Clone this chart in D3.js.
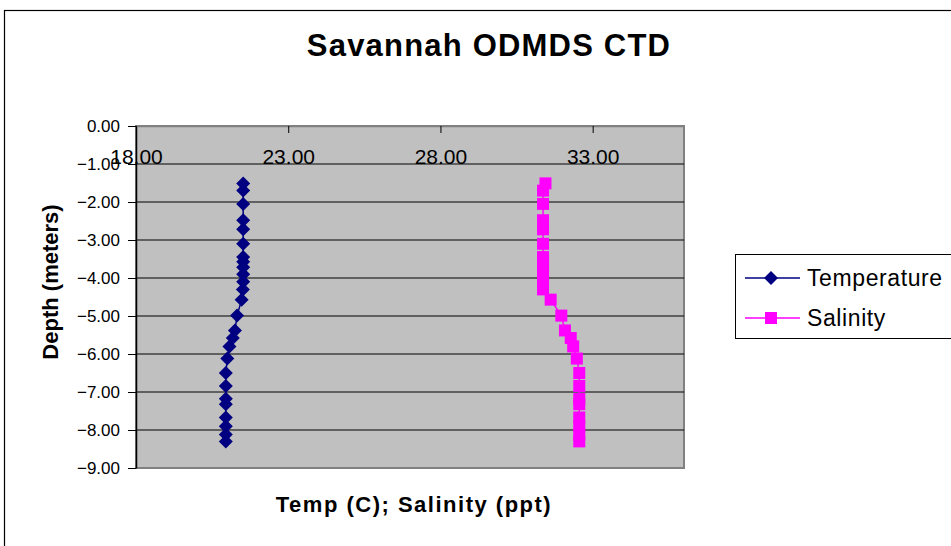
<!DOCTYPE html>
<html>
<head>
<meta charset="utf-8">
<script src="https://cdn.jsdelivr.net/npm/d3@7"></script>
<style>
  body { margin: 0; background: #fff; }
  text { font-family: Arial, "Liberation Sans", sans-serif; }
</style>
</head>
<body>
<svg width="951" height="546"></svg>
<script>
// depth of each CTD sample (m) and the readings at that depth
var depths = [-1.51, -1.70, -2.05, -2.48, -2.72, -3.10, -3.45, -3.57, -3.72, -3.90, -4.10, -4.30, -4.57,
  -4.99, -5.38, -5.58, -5.80, -6.12, -6.50, -6.84, -7.18, -7.32, -7.67, -7.90, -8.12, -8.30];
var temperature = [21.52, 21.52, 21.52, 21.52, 21.52, 21.52, 21.52, 21.52, 21.52, 21.52, 21.52, 21.51, 21.47,
  21.32, 21.25, 21.18, 21.07, 21.00, 20.95, 20.95, 20.95, 20.95, 20.95, 20.95, 20.95, 20.95];
var salinity = [31.45, 31.37, 31.37, 31.37, 31.37, 31.37, 31.37, 31.37, 31.37, 31.37, 31.37, 31.37, 31.62,
  31.97, 32.09, 32.28, 32.36, 32.48, 32.56, 32.56, 32.56, 32.56, 32.56, 32.56, 32.56, 32.56];
var xTicks = [18, 23, 28, 33];
var yTicks = [0, -1, -2, -3, -4, -5, -6, -7, -8, -9];
var seriesNames = ["Temperature", "Salinity"];
var seriesColors = ["#000080", "#FF00FF"];

window.addEventListener("load", main);

function main() {
  var svg = d3.select("svg");
  var left = 136, right = 684, top = 126, bottom = 468;

  var x = d3.scaleLinear().domain([18, 36]).range([left, right]);
  var y = d3.scaleLinear().domain([-9, 0]).range([bottom, top]);
  var fmt = d3.format(".2f");

  // outer chart frame (runs off the right / bottom edge)
  svg.append("rect")
    .attr("x", 4.5).attr("y", 10.5)
    .attr("width", 1000).attr("height", 600)
    .attr("fill", "none").attr("stroke", "#000").attr("stroke-width", 1.2);

  // plot area
  svg.append("rect")
    .attr("x", left).attr("y", top)
    .attr("width", right - left).attr("height", bottom - top)
    .attr("fill", "#C0C0C0").attr("stroke", "#808080").attr("stroke-width", 2);

  svg.append("g")
    .selectAll("line")
    .data(yTicks.filter(function(d) { return d < 0 && d > -9; }))
    .enter().append("line")
    .attr("x1", left).attr("x2", right)
    .attr("y1", function(d) { return y(d); })
    .attr("y2", function(d) { return y(d); })
    .attr("stroke", "#000").attr("stroke-width", 1);

  // y axis on the left
  var yAxis = svg.append("g")
    .attr("transform", "translate(" + left + ",0)")
    .call(d3.axisLeft(y).tickValues(yTicks).tickFormat(fmt).tickSize(8).tickSizeOuter(0).tickPadding(8));
  yAxis.select(".domain").attr("stroke", "#000").attr("stroke-width", 1.5);
  yAxis.selectAll("text").attr("font-size", 17).attr("fill", "#000")
    .style("font-family", "Arial, 'Liberation Sans', sans-serif");

  // x axis sits on top of the plot with ticks and labels pointing down
  var xAxis = svg.append("g")
    .attr("transform", "translate(0," + top + ")")
    .call(d3.axisBottom(x).tickValues(xTicks).tickFormat(fmt).tickSize(7).tickSizeOuter(0).tickPadding(16));
  xAxis.select(".domain").attr("stroke", "#808080").attr("stroke-width", 1.5);
  xAxis.selectAll("text").attr("font-size", 21).attr("fill", "#000")
    .style("font-family", "Arial, 'Liberation Sans', sans-serif");

  var tempData = depths.map(function(d, i) { return { x: temperature[i], y: d }; });
  var salData = depths.map(function(d, i) { return { x: salinity[i], y: d }; });

  var line = d3.line()
    .x(function(d) { return x(d.x); })
    .y(function(d) { return y(d.y); });

  var diamond = "M0,-7L7,0L0,7L-7,0Z";

  svg.append("path").datum(tempData)
    .attr("d", line).attr("fill", "none")
    .attr("stroke", seriesColors[0]).attr("stroke-width", 1.5);
  svg.append("g").selectAll("path")
    .data(tempData)
    .enter().append("path")
    .attr("d", diamond)
    .attr("transform", function(d) { return "translate(" + x(d.x) + "," + y(d.y) + ")"; })
    .attr("fill", seriesColors[0]);

  svg.append("path").datum(salData)
    .attr("d", line).attr("fill", "none")
    .attr("stroke", seriesColors[1]).attr("stroke-width", 1.5);
  svg.append("g").selectAll("rect")
    .data(salData)
    .enter().append("rect")
    .attr("x", function(d) { return x(d.x) - 6; })
    .attr("y", function(d) { return y(d.y) - 6; })
    .attr("width", 12).attr("height", 12)
    .attr("fill", seriesColors[1]);

  // titles
  svg.append("text")
    .attr("x", 489).attr("y", 56)
    .attr("text-anchor", "middle")
    .attr("font-size", 31).attr("font-weight", "bold")
    .attr("letter-spacing", 1.2)
    .text("Savannah ODMDS CTD");

  svg.append("text")
    .attr("transform", "translate(58,282) rotate(-90)")
    .attr("text-anchor", "middle")
    .attr("font-size", 22).attr("font-weight", "bold")
    .text("Depth (meters)");

  svg.append("text")
    .attr("x", 414).attr("y", 512)
    .attr("text-anchor", "middle")
    .attr("font-size", 22).attr("font-weight", "bold")
    .attr("letter-spacing", 1.5)
    .text("Temp (C); Salinity (ppt)");

  // legend
  var legend = svg.append("g");
  legend.append("rect")
    .attr("x", 735.5).attr("y", 254.5)
    .attr("width", 300).attr("height", 84)
    .attr("fill", "#fff").attr("stroke", "#000").attr("stroke-width", 1);

  var rows = legend.selectAll("g.row")
    .data(seriesNames)
    .enter().append("g")
    .attr("class", "row")
    .attr("transform", function(d, i) { return "translate(0," + (278 + i * 40) + ")"; });

  rows.append("line")
    .attr("x1", 745).attr("x2", 800)
    .attr("stroke", function(d, i) { return seriesColors[i]; })
    .attr("stroke-width", 1.5);
  rows.filter(function(d, i) { return i == 0; }).append("path")
    .attr("d", diamond)
    .attr("transform", "translate(771,0)")
    .attr("fill", seriesColors[0]);
  rows.filter(function(d, i) { return i == 1; }).append("rect")
    .attr("x", 765).attr("y", -6).attr("width", 12).attr("height", 12)
    .attr("fill", seriesColors[1]);
  rows.append("text")
    .attr("x", 807).attr("y", 8)
    .attr("font-size", 23)
    .attr("letter-spacing", 0.6)
    .text(function(d) { return d; });
}
</script>
</body>
</html>
